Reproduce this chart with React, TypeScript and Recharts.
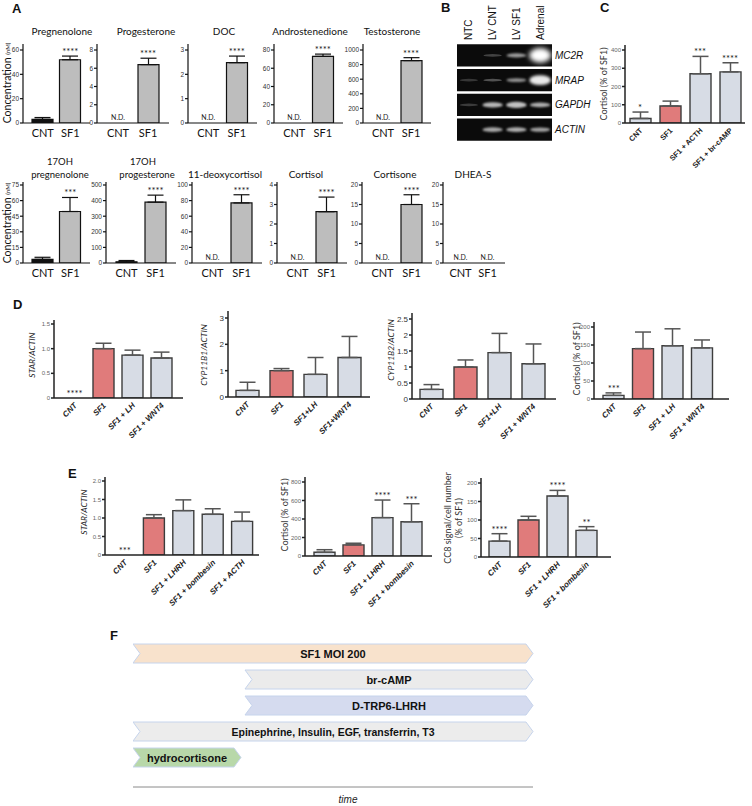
import React from 'react';
import {
  ComposedChart, ScatterChart, BarChart, Bar, Scatter, XAxis, YAxis,
  ErrorBar, Cell, ReferenceArea, Label,
} from 'recharts';

const CAL = 'Lato, "Open Sans", sans-serif';
const ARIAL = '"Liberation Sans", Arial, sans-serif';
const NARROW = '"Liberation Sans Narrow", "Liberation Sans", Arial, sans-serif';

const INK = '#111111';
const GREY = '#bdbdbd';
const RED = '#e07b7b';
const PALE = '#d7dce5';

// ---- A: steroids (nM), CNT vs SF1, null = not detected
const aCats = ['CNT', 'SF1'];
const pregnenolone = [3, 52];
const pregnenoloneErr = [1.5, 3];
const progesterone = [null, 6.4];
const progesteroneErr = [0, 0.7];
const doc = [null, 2.48];
const docErr = [0, 0.27];
const androstenedione = [null, 73];
const androstenedioneErr = [0, 2.5];
const testosterone = [null, 855];
const testosteroneErr = [0, 40];
const ohPregnenolone = [3.5, 49.5];
const ohPregnenoloneErr = [2, 13.5];
const ohProgesterone = [8, 390];
const ohProgesteroneErr = [8, 45];
const deoxycortisol = [null, 77];
const deoxycortisolErr = [0, 10.5];
const cortisolA = [null, 2.63];
const cortisolAErr = [0, 0.75];
const cortisone = [null, 15];
const cortisoneErr = [0, 2.5];
const dheas = [null, null];
const dheasErr = [0, 0];

// ---- B: RT-PCR gel
const lanes = ['NTC', 'LV CNT', 'LV SF1', 'Adrenal'];
const genes = ['MC2R', 'MRAP', 'GAPDH', 'ACTIN'];
const mc2rBand = [0, 0.08, 0.5, 1];
const mrapBand = [0.03, 0.15, 0.45, 0.85];
const gapdhBand = [0.05, 0.62, 0.66, 0.58];
const actinBand = [0, 0.55, 0.58, 0.52];

// ---- C: cortisol (% of SF1)
const cCats = ['CNT', 'SF1', 'SF1 + ACTH', 'SF1 + br-cAMP'];
const cVals = [25, 93, 270, 280];
const cErr = [35, 27, 95, 50];
const cSig = ['*', '', '***', '****'];

// ---- D
const d1Cats = ['CNT', 'SF1', 'SF1 + LH', 'SF1 + WNT4'];
const d1Vals = [0, 1.0, 0.87, 0.81];
const d1Err = [0, 0.11, 0.1, 0.12];
const d1Sig = ['****', '', '', ''];
const d2Cats = ['CNT', 'SF1', 'SF1+LH', 'SF1+WNT4'];
const d2Vals = [0.25, 1.0, 0.86, 1.5];
const d2Err = [0.31, 0.08, 0.64, 0.8];
const d3Cats = ['CNT', 'SF1', 'SF1+LH', 'SF1 + WNT4'];
const d3Vals = [0.3, 1.0, 1.45, 1.1];
const d3Err = [0.15, 0.22, 0.6, 0.62];
const d4Cats = ['CNT', 'SF1', 'SF1 + LH', 'SF1 + WNT4'];
const d4Vals = [10, 140, 148, 142];
const d4Err = [7, 46, 47, 22];
const d4Sig = ['***', '', '', ''];

// ---- E
const e1Cats = ['CNT', 'SF1', 'SF1 + LHRH', 'SF1 + bombesin', 'SF1 + ACTH'];
const e1Vals = [0, 1.0, 1.2, 1.1, 0.91];
const e1Err = [0, 0.09, 0.29, 0.15, 0.25];
const e1Sig = ['***', '', '', '', ''];
const e2Cats = ['CNT', 'SF1', 'SF1 + LHRH', 'SF1 + bombesin'];
const e2Vals = [40, 120, 415, 370];
const e2Err = [28, 18, 190, 195];
const e2Sig = ['', '', '****', '***'];
const e3Vals = [43, 100, 165, 72];
const e3Err = [20, 10, 15, 10];
const e3Sig = ['****', '', '****', '**'];

// ---- F: treatment timeline
const steps = ['SF1 MOI 200', 'br-cAMP', 'D-TRP6-LHRH', 'Epinephrine, Insulin, EGF, transferrin, T3', 'hydrocortisone'];
const stepStart = [0, 28, 28, 0, 0];
const stepEnd = [100, 100, 100, 100, 27];
const stepFill = ['#f8e2cc', '#ebebeb', '#d5dbef', '#ececec', '#b8d8a9'];

type Panel = {
  cats: string[];
  vals: (number | null)[];
  errs: number[];
  sigs: string[];
  fills: string[];
  left: number;
  y0: number;
  yTop: number;
  tickY: number;
  ticks: number[];
  plotW: number;
  padL: number;
  padR: number;
  bar: number;
  theme: 'A' | 'D';
  xStyle: 'plain' | 'italic' | 'bold';
  tickFs: number;
  tickFill: string;
  fmt?: (v: number) => string;
};

const oneDec = (v: number) => (v === 0 ? '0' : v.toFixed(1));
const redSF1 = (cats: string[]) => cats.map((c) => (c === 'SF1' ? RED : PALE));

const aRow1 = { y0: 123, yTop: 44, tickY: 50 };
const aRow2 = { y0: 263, yTop: 182, tickY: 185 };

function aPanel(left: number, row: typeof aRow1, ticks: number[], vals: (number | null)[], errs: number[], sigs: string[], plotW = 70, pad = 6): Panel {
  return {
    cats: aCats, vals, errs, sigs, fills: [INK, GREY], left, ...row, ticks, plotW, padL: pad, padR: pad,
    bar: 21, theme: 'A', xStyle: 'plain', tickFs: 6.5, tickFill: '#333',
  };
}

const panels: Panel[] = [
  aPanel(23, aRow1, [0, 20, 40, 60], pregnenolone, pregnenoloneErr, ['', '****'], 67),
  aPanel(97, aRow1, [0, 2, 4, 6, 8], progesterone, progesteroneErr, ['N.D.', '****'], 72),
  aPanel(188, aRow1, [0, 1, 2, 3], doc, docErr, ['N.D.', '****'], 69),
  aPanel(274, aRow1, [0, 20, 40, 60, 80], androstenedione, androstenedioneErr, ['N.D.', '****'], 69),
  aPanel(363, aRow1, [0, 200, 400, 600, 800, 1000], testosterone, testosteroneErr, ['N.D.', '****'], 68),
  aPanel(23, aRow2, [0, 15, 30, 45, 60, 75], ohPregnenolone, ohPregnenoloneErr, ['', '***'], 67),
  aPanel(106, aRow2, [0, 100, 200, 300, 400, 500], ohProgesterone, ohProgesteroneErr, ['', '****']),
  aPanel(192, aRow2, [0, 20, 40, 60, 80, 100], deoxycortisol, deoxycortisolErr, ['N.D.', '****']),
  aPanel(277, aRow2, [0, 1, 2, 3, 4], cortisolA, cortisolAErr, ['N.D.', '****']),
  aPanel(362, aRow2, [0, 5, 10, 15, 20], cortisone, cortisoneErr, ['N.D.', '****']),
  aPanel(443, aRow2, [0, 5, 10, 15, 20], dheas, dheasErr, ['N.D.', 'N.D.'], 62, 4),
  {
    cats: cCats, vals: cVals, errs: cErr, sigs: cSig, fills: redSF1(cCats), left: 625, y0: 123, yTop: 45, tickY: 50,
    ticks: [0, 100, 200, 300, 400], plotW: 120, padL: 0, padR: 0, bar: 21, theme: 'D', xStyle: 'bold', tickFs: 6, tickFill: '#666',
  },
  {
    cats: d1Cats, vals: d1Vals, errs: d1Err, sigs: d1Sig, fills: redSF1(d1Cats), left: 54, y0: 398, yTop: 320, tickY: 324,
    ticks: [0, 0.5, 1, 1.5], plotW: 129, padL: 6, padR: 7, bar: 21, theme: 'D', xStyle: 'italic', tickFs: 6, tickFill: '#666', fmt: oneDec,
  },
  {
    cats: d2Cats, vals: d2Vals, errs: d2Err, sigs: ['', '', '', ''], fills: redSF1(d2Cats), left: 228, y0: 397, yTop: 311, tickY: 318,
    ticks: [0, 1, 2, 3], plotW: 142, padL: 2, padR: 4, bar: 23, theme: 'D', xStyle: 'italic', tickFs: 8, tickFill: '#333',
  },
  {
    cats: d3Cats, vals: d3Vals, errs: d3Err, sigs: ['', '', '', ''], fills: redSF1(d3Cats), left: 412, y0: 399, yTop: 313, tickY: 319,
    ticks: [0, 0.5, 1, 1.5, 2, 2.5], plotW: 144, padL: 2, padR: 6, bar: 23, theme: 'D', xStyle: 'italic', tickFs: 8, tickFill: '#333',
  },
  {
    cats: d4Cats, vals: d4Vals, errs: d4Err, sigs: d4Sig, fills: redSF1(d4Cats), left: 594, y0: 399, yTop: 322, tickY: 327,
    ticks: [0, 50, 100, 150, 200], plotW: 135, padL: 5, padR: 12, bar: 21, theme: 'D', xStyle: 'italic', tickFs: 6, tickFill: '#666',
  },
  {
    cats: e1Cats, vals: e1Vals, errs: e1Err, sigs: e1Sig, fills: redSF1(e1Cats), left: 105, y0: 555, yTop: 477, tickY: 481,
    ticks: [0, 0.5, 1, 1.5, 2], plotW: 154, padL: 5, padR: 2, bar: 21, theme: 'D', xStyle: 'italic', tickFs: 6, tickFill: '#666', fmt: oneDec,
  },
  {
    cats: e2Cats, vals: e2Vals, errs: e2Err, sigs: e2Sig, fills: redSF1(e2Cats), left: 305, y0: 556, yTop: 477, tickY: 482,
    ticks: [0, 200, 400, 600, 800], plotW: 127, padL: 5, padR: 6, bar: 21, theme: 'D', xStyle: 'italic', tickFs: 6, tickFill: '#666',
  },
  {
    cats: e2Cats, vals: e3Vals, errs: e3Err, sigs: e3Sig, fills: redSF1(e2Cats), left: 481, y0: 557, yTop: 478, tickY: 483,
    ticks: [0, 50, 100, 150, 200], plotW: 130, padL: 4, padR: 10, bar: 21, theme: 'D', xStyle: 'italic', tickFs: 6, tickFill: '#666',
  },
];

function XTick(props: any) {
  const { x, y, payload, mode } = props;
  if (mode === 'plain') {
    return (
      <text x={x} y={y + 14} textAnchor="middle" fontSize={11} fontFamily={CAL} fill={INK}>
        {payload.value}
      </text>
    );
  }
  const tx = x + 3;
  const ty = y + 8;
  return (
    <text
      x={tx} y={ty} textAnchor="end" transform={`rotate(-45 ${tx} ${ty})`}
      fontSize={mode === 'bold' ? 7.5 : 8} fontWeight="bold" fontStyle={mode === 'italic' ? 'italic' : 'normal'}
      fontFamily={ARIAL} fill="#222"
    >
      {payload.value}
    </text>
  );
}

function Note(props: any) {
  const { cx, cy, payload } = props;
  if (!payload || !payload.sig || cx == null || cy == null) return <g />;
  const nd = payload.sig === 'N.D.';
  return (
    <text x={cx} y={cy - (nd ? 3 : 1)} textAnchor="middle" fontSize={nd ? 7 : 9.5} fontFamily={CAL} fill="#222">
      {payload.sig}
    </text>
  );
}

function BarPanel({ p }: { p: Panel }) {
  const yw = 32;
  const tp = 16;
  const bp = 80;
  const rp = 4;
  const h = p.y0 - p.yTop;
  const max = (p.ticks[p.ticks.length - 1] * h) / (p.y0 - p.tickY);
  const data = p.cats.map((c, i) => ({
    name: c,
    val: p.vals[i] ?? 0,
    e: [0, p.errs[i] ?? 0],
    lab: (p.vals[i] ?? 0) + (p.errs[i] ?? 0),
    sig: p.sigs[i] ?? '',
  }));
  const isA = p.theme === 'A';
  const axis = { stroke: isA ? INK : '#222', strokeWidth: isA ? 1.2 : 1.5 };
  return (
    <div style={{ position: 'absolute', left: p.left - yw, top: p.yTop - tp }}>
      <ComposedChart
        width={yw + p.plotW + rp}
        height={tp + h + bp}
        data={data}
        margin={{ top: tp, right: rp, bottom: 0, left: 0 }}
      >
        <XAxis
          dataKey="name" height={bp} interval={0} padding={{ left: p.padL, right: p.padR }}
          axisLine={axis} tickLine={false} tickSize={0} tickMargin={0}
          tick={(t: any) => <XTick {...t} mode={p.xStyle} />}
        />
        <YAxis
          width={yw} type="number" domain={[0, max]} allowDataOverflow ticks={p.ticks} interval={0}
          tickSize={3} tickMargin={1} axisLine={axis} tickLine={axis}
          tick={{ fontSize: p.tickFs, fill: p.tickFill, fontFamily: p.tickFs > 7 ? ARIAL : NARROW }}
          tickFormatter={p.fmt}
        />
        <Bar
          dataKey="val" barSize={p.bar} isAnimationActive={false}
          stroke={isA ? INK : '#3d3d3d'} strokeWidth={isA ? 1.2 : 1.4}
        >
          {data.map((d, i) => (
            <Cell key={d.name + i} fill={p.fills[i]} />
          ))}
          <ErrorBar dataKey="e" direction="y" width={8} stroke={isA ? INK : '#555'} strokeWidth={isA ? 1.2 : 1.5} />
        </Bar>
        <Scatter dataKey="lab" isAnimationActive={false} shape={(s: any) => <Note {...s} />} />
      </ComposedChart>
    </div>
  );
}

function LaneTick({ x, y, payload }: any) {
  const ty = y - 3;
  return (
    <text
      x={x} y={ty} transform={`rotate(-90 ${x} ${ty})`} textAnchor="start" dominantBaseline="central"
      fontSize={10} fontFamily={ARIAL} fill={INK}
    >
      {lanes[payload.value - 1]}
    </text>
  );
}

function GeneTick({ x, y, payload }: any) {
  return (
    <text x={x + 3} y={y} dominantBaseline="central" fontSize={10} fontStyle="italic" fontFamily={ARIAL} fill={INK}>
      {genes[payload.value - 1]}
    </text>
  );
}

function Band({ cx, cy, payload }: any) {
  const v = payload.v;
  if (!v) return <g />;
  const id = `band-${payload.lane}-${payload.row}`;
  const big = v * v * v;
  return (
    <g>
      <defs>
        <filter id={id} x="-60%" y="-200%" width="220%" height="500%">
          <feGaussianBlur stdDeviation={0.7 + 1.8 * big} />
        </filter>
      </defs>
      <ellipse
        cx={cx} cy={cy} rx={9 + 2 * v} ry={1.3 + 6 * big}
        fill="#ffffff" opacity={Math.min(1, 0.15 + 0.9 * v)} filter={`url(#${id})`}
      />
    </g>
  );
}

function Gel() {
  const levels = [mc2rBand, mrapBand, gapdhBand, actinBand];
  const pts = genes.flatMap((g, r) => levels[r].map((v, l) => ({ lane: l + 1, row: r + 1, v })));
  return (
    <div style={{ position: 'absolute', left: 457, top: 0 }}>
      <ScatterChart width={95 + 62} height={142} margin={{ top: 0, right: 0, bottom: 0, left: 0 }}>
        <XAxis
          type="number" dataKey="lane" orientation="top" domain={[0.5, 4.5]} ticks={[1, 2, 3, 4]} height={43}
          axisLine={false} tickLine={false} tickSize={0} tickMargin={0} interval={0} tick={<LaneTick />}
        />
        <YAxis
          type="number" dataKey="row" orientation="right" domain={[0.5, 4.5]} reversed ticks={[1, 2, 3, 4]} width={62}
          axisLine={false} tickLine={false} tickSize={0} tickMargin={0} interval={0} tick={<GeneTick />}
        />
        {genes.map((g, i) => (
          <ReferenceArea key={g} y1={i + 1 - 0.45} y2={i + 1 + 0.45} fill="#0b0b0b" fillOpacity={1} stroke="none" />
        ))}
        <Scatter data={pts} dataKey="row" isAnimationActive={false} shape={(s: any) => <Band {...s} />} />
      </ScatterChart>
    </div>
  );
}

function Chevron(props: any) {
  const { x, y, width, height, payload } = props;
  const n = 7;
  const pts = [
    [x, y], [x + width - n, y], [x + width, y + height / 2], [x + width - n, y + height],
    [x, y + height], [x + n, y + height / 2],
  ].map((q) => q.join(',')).join(' ');
  return (
    <g>
      <polygon points={pts} fill={payload.fill} stroke="#c6d4ec" strokeWidth={1} />
      <text
        x={x + width / 2} y={y + height / 2 + 0.5} textAnchor="middle" dominantBaseline="central"
        fontSize={payload.name.length > 20 ? 10.5 : 11} fontWeight="bold" fontFamily={ARIAL} fill={INK}
      >
        {payload.name}
      </text>
    </g>
  );
}

function TimeLabel(props: any) {
  const { viewBox } = props;
  return (
    <text
      x={viewBox.x + viewBox.width / 2 + 15} y={viewBox.y + 16} textAnchor="middle"
      fontSize={10} fontStyle="italic" fontFamily={ARIAL} fill="#222"
    >
      time
    </text>
  );
}

function Timeline() {
  const data = steps.map((s, i) => ({ name: s, span: [stepStart[i], stepEnd[i]], fill: stepFill[i] }));
  return (
    <div style={{ position: 'absolute', left: 133, top: 640 }}>
      <BarChart layout="vertical" width={404} height={147 + 22} data={data} margin={{ top: 0, right: 4, bottom: 0, left: 0 }}>
        <XAxis type="number" domain={[0, 100]} tick={false} tickLine={false} height={22} axisLine={{ stroke: '#8a8a8a' }}>
          <Label content={<TimeLabel />} />
        </XAxis>
        <YAxis type="category" dataKey="name" hide padding={{ top: 0, bottom: 17 }} />
        <Bar dataKey="span" barSize={19} isAnimationActive={false} shape={(s: any) => <Chevron {...s} />} />
      </BarChart>
    </div>
  );
}

const Rot = ({ x, y, children, ...rest }: any) => (
  <text x={x} y={y} transform={`rotate(-90 ${x} ${y})`} textAnchor="middle" dominantBaseline="central" {...rest}>
    {children}
  </text>
);

function Overlay() {
  const letter = { fontSize: 13, fontWeight: 'bold' as const, fontFamily: ARIAL, fill: INK };
  const title = { fontSize: 10, fontFamily: CAL, fill: INK, textAnchor: 'middle' as const };
  const title2 = { ...title, fontSize: 9.5 };
  const ylab = { fontSize: 9, fontFamily: CAL, fill: '#333' };
  const ylabI = { fontSize: 8.5, fontFamily: CAL, fontStyle: 'italic', fill: '#222' };
  return (
    <svg width={752} height={806} style={{ position: 'absolute', left: 0, top: 0, pointerEvents: 'none' }}>
      <text x={12} y={13} {...letter}>A</text>
      <text x={441} y={12} {...letter}>B</text>
      <text x={600} y={12} {...letter}>C</text>
      <text x={13} y={309} {...letter}>D</text>
      <text x={68} y={478} {...letter}>E</text>
      <text x={110} y={640} {...letter}>F</text>

      <text x={62} y={35} {...title}>Pregnenolone</text>
      <text x={146} y={35} {...title}>Progesterone</text>
      <text x={224} y={35} {...title}>DOC</text>
      <text x={310} y={35} {...title}>Androstenedione</text>
      <text x={392} y={35} {...title}>Testosterone</text>
      <text x={60} y={165} {...title2}>17OH</text>
      <text x={60} y={178} {...title2}>pregnenolone</text>
      <text x={143} y={165} {...title2}>17OH</text>
      <text x={147} y={178} {...title2}>progesterone</text>
      <text x={225} y={178} {...title}>11-deoxycortisol</text>
      <text x={306} y={178} {...title}>Cortisol</text>
      <text x={395} y={178} {...title}>Cortisone</text>
      <text x={473} y={178} {...title}>DHEA-S</text>

      <Rot x={7} y={83} fontSize={10.5} fontFamily={CAL} fill={INK}>
        Concentration <tspan fontSize={6}>(nM)</tspan>
      </Rot>
      <Rot x={7} y={223} fontSize={10.5} fontFamily={CAL} fill={INK}>
        Concentration <tspan fontSize={6}>(nM)</tspan>
      </Rot>

      <Rot x={603} y={84} {...ylab}>Cortisol (% of SF1)</Rot>
      <Rot x={32} y={355} {...ylabI}>STAR/ACTIN</Rot>
      <Rot x={204} y={355} {...ylabI}>CYP11B1/ACTIN</Rot>
      <Rot x={391} y={350} {...ylabI}>CYP11B2/ACTIN</Rot>
      <Rot x={576} y={359} {...ylab}>Cortisol (% of SF1)</Rot>
      <Rot x={84} y={512} {...ylabI}>STAR/ACTIN</Rot>
      <Rot x={284} y={515} {...ylab}>Cortisol (% of SF1)</Rot>
      <Rot x={447} y={518} {...ylab}>CC8 signal/cell number</Rot>
      <Rot x={458} y={518} {...ylab}>(% of SF1)</Rot>
    </svg>
  );
}

export default function App() {
  return (
    <div style={{ position: 'absolute', left: 0, top: 0, width: 752, height: 806, background: '#fff', overflow: 'hidden' }}>
      {panels.map((p, i) => (
        <BarPanel key={i} p={p} />
      ))}
      <Gel />
      <Timeline />
      <Overlay />
    </div>
  );
}
